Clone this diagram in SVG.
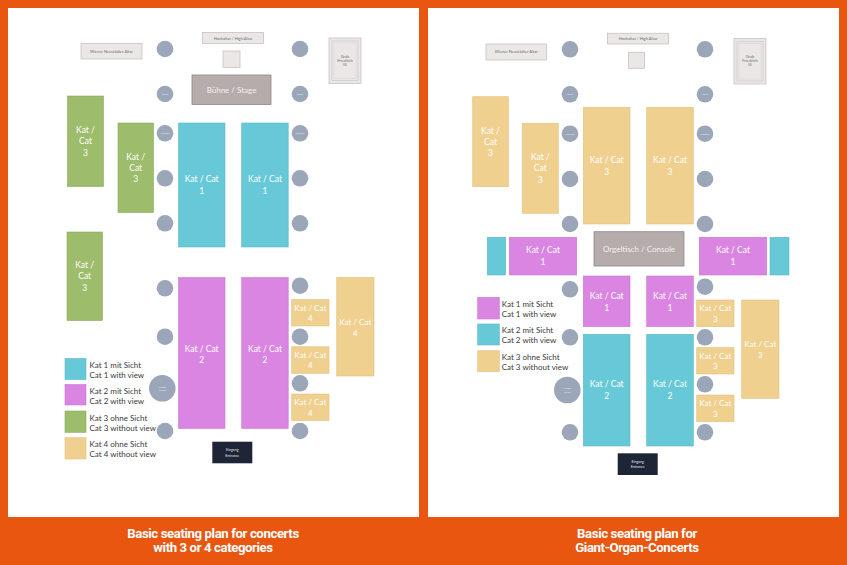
<svg xmlns="http://www.w3.org/2000/svg" width="847" height="565" viewBox="0 0 847 565">
<style>
text{font-family:Lato,"Open Sans","Liberation Sans",sans-serif}
.panel{fill:#ffffff}
.alt{fill:#ebe7e7;stroke:#c9c3c3;stroke-width:0.8}
.altT{fill:#6b6b6b;font-size:4px;text-anchor:middle}
.col{fill:#9ba6b9}
.colT{fill:#e8ecf2;font-size:2.6px;text-anchor:middle}
.stage{fill:#b5acab;stroke:#8f8787;stroke-width:0.8}
.stageT{fill:#f4f0f0;font-size:8px;text-anchor:middle}
.c1{fill:#67c9d7;stroke:#5ab8c6;stroke-width:0.6}
.c2{fill:#d985e1;stroke:#c877d0;stroke-width:0.6}
.c3{fill:#9dbc6c;stroke:#8aa95b;stroke-width:0.6}
.c4{fill:#f0d08f;stroke:#e2c07e;stroke-width:0.6}
.kt{fill:#ffffff;font-size:8.5px;text-anchor:middle}
.kts{fill:#ffffff;font-size:8px;text-anchor:middle}
.leg{fill:#3a3a3a;font-size:8px}
.ent{fill:#1e2536}
.entT{fill:#e6e8ee;font-size:3.6px;text-anchor:middle}
.cap{fill:#ffffff;font-family:"Roboto","Liberation Sans",sans-serif;font-weight:bold;font-size:13.2px;text-anchor:middle;letter-spacing:-0.4px}
</style>
<rect width="847" height="565" fill="#e8560f"/>
<rect class="panel" x="8" y="8" width="411" height="509"/>
<rect class="panel" x="428" y="8" width="411" height="509"/>
<g id="connectors"/>

<!-- LEFT PANEL -->
<g id="L-wiener"><rect class="alt" x="81" y="43.5" width="61" height="15.5"/><text class="altT" x="111.5" y="52.5">Wiener  Neustädter  Altar</text></g>
<g id="L-hochaltar"><rect class="alt" x="202.5" y="32.5" width="61" height="11"/><text class="altT" x="233" y="39.5">Hochaltar  /  High  Altar</text></g>
<g id="L-square"><rect class="alt" x="223" y="51" width="17" height="16.5"/></g>
<g id="L-grab"><rect class="alt" x="329" y="38" width="32" height="45.5"/><rect x="332" y="41" width="26" height="39.5" fill="none" stroke="#c9c3c3" stroke-width="0.6"/><rect x="334" y="43" width="22" height="35.5" fill="none" stroke="#d6d1d1" stroke-width="0.5"/><text class="altT" x="345" y="57.5" font-size="3.3">Grab</text><text class="altT" x="345" y="61.5" font-size="3.3">Friedrich</text><text class="altT" x="345" y="65.5" font-size="3.3">III</text></g>
<g id="L-stage"><rect class="stage" x="192" y="75" width="79" height="29.5"/><text class="stageT" x="231.5" y="92.5">Bühne / Stage</text></g>

<g id="L-col1"><circle class="col" cx="165" cy="49" r="8.3"/></g>
<g id="L-col2"><circle class="col" cx="300" cy="49" r="8.3"/></g>
<g id="L-col3"><circle class="col" cx="165" cy="94" r="8.3"/><text class="colT" x="165" y="95">Säule</text></g>
<g id="L-col4"><circle class="col" cx="300" cy="94" r="8.3"/><text class="colT" x="300" y="95">Säule</text></g>
<g id="L-col5"><circle class="col" cx="165" cy="133.3" r="8.3"/><text class="colT" x="165" y="134.3">Column</text></g>
<g id="L-col6"><circle class="col" cx="300" cy="133.3" r="8.3"/><text class="colT" x="300" y="134.3">Column</text></g>
<g id="L-col7"><circle class="col" cx="165" cy="178.3" r="8.3"/></g>
<g id="L-col8"><circle class="col" cx="300" cy="178.3" r="8.3"/></g>
<g id="L-col9"><circle class="col" cx="165" cy="223.3" r="8.3"/></g>
<g id="L-col10"><circle class="col" cx="300" cy="223.3" r="8.3"/></g>
<g id="L-col11"><circle class="col" cx="165" cy="288.3" r="8.3"/></g>
<g id="L-col12"><circle class="col" cx="300" cy="285.7" r="8.3"/></g>
<g id="L-col13"><circle class="col" cx="165" cy="336.7" r="8.3"/></g>
<g id="L-col14"><circle class="col" cx="300" cy="336.7" r="8.3"/></g>
<g id="L-pulpit"><circle class="col" cx="162.3" cy="388.3" r="13.3"/><text class="colT" x="162.3" y="387.5">Kanzel</text><text class="colT" x="162.3" y="391">Pulpit</text></g>
<g id="L-col15"><circle class="col" cx="300" cy="383.3" r="8.3"/></g>
<g id="L-col16"><circle class="col" cx="165" cy="431" r="8.3"/></g>
<g id="L-col17"><circle class="col" cx="300" cy="431" r="8.3"/></g>

<g id="L-g1"><rect class="c3" x="67.5" y="96" width="36" height="90.5"/><text class="kt" x="85.5" y="133">Kat /</text><text class="kt" x="85.5" y="144">Cat</text><text class="kt" x="85.5" y="155.5">3</text></g>
<g id="L-g2"><rect class="c3" x="118" y="123" width="35.5" height="89.5"/><text class="kt" x="135.7" y="159.5">Kat /</text><text class="kt" x="135.7" y="170.5">Cat</text><text class="kt" x="135.7" y="182">3</text></g>
<g id="L-g3"><rect class="c3" x="67" y="232" width="35.5" height="88.5"/><text class="kt" x="84.7" y="268">Kat /</text><text class="kt" x="84.7" y="279">Cat</text><text class="kt" x="84.7" y="290.5">3</text></g>
<g id="L-b1"><rect class="c1" x="178.5" y="123" width="46.5" height="124"/><text class="kt" x="201.7" y="182">Kat / Cat</text><text class="kt" x="201.7" y="194">1</text></g>
<g id="L-b2"><rect class="c1" x="241.7" y="123" width="46.5" height="124"/><text class="kt" x="265" y="182">Kat / Cat</text><text class="kt" x="265" y="194">1</text></g>
<g id="L-m1"><rect class="c2" x="178.5" y="277.5" width="46.5" height="151"/><text class="kt" x="201.7" y="351.5">Kat / Cat</text><text class="kt" x="201.7" y="363">2</text></g>
<g id="L-m2"><rect class="c2" x="241.7" y="277.5" width="46.5" height="151"/><text class="kt" x="265" y="351.5">Kat / Cat</text><text class="kt" x="265" y="363">2</text></g>
<g id="L-o1"><rect class="c4" x="291.7" y="299.5" width="37.3" height="26.5"/><text class="kts" x="310.3" y="310.5">Kat / Cat</text><text class="kts" x="310.3" y="321">4</text></g>
<g id="L-o2"><rect class="c4" x="291.7" y="346.8" width="37.3" height="26.5"/><text class="kts" x="310.3" y="357.8">Kat / Cat</text><text class="kts" x="310.3" y="368.3">4</text></g>
<g id="L-o3"><rect class="c4" x="291.7" y="394" width="37.3" height="26.5"/><text class="kts" x="310.3" y="405">Kat / Cat</text><text class="kts" x="310.3" y="415.5">4</text></g>
<g id="L-o4"><rect class="c4" x="336.7" y="277.5" width="37.3" height="98.5"/><text class="kts" x="355.3" y="324.5">Kat / Cat</text><text class="kts" x="355.3" y="335.5">4</text></g>
<g id="L-entrance"><rect class="ent" x="212.3" y="441.7" width="40" height="21.6"/><text class="entT" x="232.3" y="451">Eingang</text><text class="entT" x="232.3" y="456.5">Entrance</text></g>

<g id="L-legend">
<rect class="c1" x="65" y="358.5" width="21" height="21"/><text class="leg" x="89.5" y="367.5">Kat 1 mit Sicht</text><text class="leg" x="89.5" y="377.5">Cat 1 with view</text>
<rect class="c2" x="65" y="384.5" width="21" height="20.5"/><text class="leg" x="89.5" y="393.5">Kat 2 mit Sicht</text><text class="leg" x="89.5" y="403.5">Cat 2 with view</text>
<rect class="c3" x="65" y="411" width="21" height="21.3"/><text class="leg" x="89.5" y="420.5">Kat 3 ohne Sicht</text><text class="leg" x="89.5" y="430.5">Cat 3 without view</text>
<rect class="c4" x="65" y="437.7" width="21" height="21.3"/><text class="leg" x="89.5" y="447">Kat 4 ohne Sicht</text><text class="leg" x="89.5" y="457">Cat 4 without view</text>
</g>

<!-- RIGHT PANEL -->
<g id="R-wiener"><rect class="alt" x="486" y="44" width="60.7" height="16"/><text class="altT" x="516.3" y="53.3">Wiener  Neustädter  Altar</text></g>
<g id="R-hochaltar"><rect class="alt" x="607.5" y="33.3" width="61" height="10.7"/><text class="altT" x="638" y="40.2">Hochaltar  /  High  Altar</text></g>
<g id="R-square"><rect class="alt" x="628.5" y="52.3" width="16" height="16"/></g>
<g id="R-grab"><rect class="alt" x="734" y="38.5" width="32" height="45.5"/><rect x="737" y="41.5" width="26" height="39.5" fill="none" stroke="#c9c3c3" stroke-width="0.6"/><rect x="739" y="43.5" width="22" height="35.5" fill="none" stroke="#d6d1d1" stroke-width="0.5"/><text class="altT" x="750" y="58" font-size="3.3">Grab</text><text class="altT" x="750" y="62" font-size="3.3">Friedrich</text><text class="altT" x="750" y="66" font-size="3.3">III</text></g>
<g id="R-console"><rect class="stage" x="594" y="231.7" width="90" height="34.3"/><text class="stageT" x="639" y="251.5">Orgeltisch / Console</text></g>

<g id="R-col1"><circle class="col" cx="570" cy="49.3" r="8.3"/></g>
<g id="R-col2"><circle class="col" cx="705" cy="49.3" r="8.3"/></g>
<g id="R-col3"><circle class="col" cx="570" cy="94.3" r="8.3"/><text class="colT" x="570" y="95.3">Säule</text></g>
<g id="R-col4"><circle class="col" cx="705" cy="94.3" r="8.3"/><text class="colT" x="705" y="95.3">Säule</text></g>
<g id="R-col5"><circle class="col" cx="570" cy="133.7" r="8.3"/><text class="colT" x="570" y="134.7">Column</text></g>
<g id="R-col6"><circle class="col" cx="705" cy="133.7" r="8.3"/><text class="colT" x="705" y="134.7">Column</text></g>
<g id="R-col7"><circle class="col" cx="570" cy="179" r="8.3"/></g>
<g id="R-col8"><circle class="col" cx="705" cy="179" r="8.3"/></g>
<g id="R-col9"><circle class="col" cx="570" cy="224" r="8.3"/></g>
<g id="R-col10"><circle class="col" cx="705" cy="224" r="8.3"/></g>
<g id="R-col11"><circle class="col" cx="570" cy="289.3" r="8.3"/></g>
<g id="R-col12"><circle class="col" cx="705" cy="286.7" r="8.3"/></g>
<g id="R-col13"><circle class="col" cx="570" cy="337.3" r="8.3"/></g>
<g id="R-col14"><circle class="col" cx="705" cy="337.3" r="8.3"/></g>
<g id="R-pulpit"><circle class="col" cx="567.3" cy="390" r="13.3"/><text class="colT" x="567.3" y="389.2">Kanzel</text><text class="colT" x="567.3" y="392.7">Pulpit</text></g>
<g id="R-col15"><circle class="col" cx="705" cy="384.3" r="8.3"/></g>
<g id="R-col16"><circle class="col" cx="570" cy="432.3" r="8.3"/></g>
<g id="R-col17"><circle class="col" cx="705" cy="432.3" r="8.3"/></g>

<g id="R-y1"><rect class="c4" x="472.7" y="96.7" width="35.6" height="90"/><text class="kt" x="490.5" y="133.5">Kat /</text><text class="kt" x="490.5" y="144.5">Cat</text><text class="kt" x="490.5" y="156">3</text></g>
<g id="R-y2"><rect class="c4" x="522.3" y="123.3" width="36" height="90"/><text class="kt" x="540.3" y="160">Kat /</text><text class="kt" x="540.3" y="171">Cat</text><text class="kt" x="540.3" y="182.5">3</text></g>
<g id="R-y3"><rect class="c4" x="583.3" y="107.3" width="46.7" height="116.7"/><text class="kt" x="606.7" y="163">Kat / Cat</text><text class="kt" x="606.7" y="175">3</text></g>
<g id="R-y4"><rect class="c4" x="646.7" y="107.3" width="46.6" height="116.7"/><text class="kt" x="670" y="163">Kat / Cat</text><text class="kt" x="670" y="175">3</text></g>
<g id="R-t1"><rect class="c1" x="487.3" y="237.3" width="18.4" height="37.7"/></g>
<g id="R-p1"><rect class="c2" x="509.3" y="237.3" width="67.4" height="37.7"/><text class="kt" x="543" y="253">Kat / Cat</text><text class="kt" x="543" y="265">1</text></g>
<g id="R-p2"><rect class="c2" x="699.3" y="237.3" width="67.4" height="37.7"/><text class="kt" x="733" y="253">Kat / Cat</text><text class="kt" x="733" y="265">1</text></g>
<g id="R-t2"><rect class="c1" x="770" y="237.3" width="19" height="37.7"/></g>
<g id="R-p3"><rect class="c2" x="583.3" y="276" width="46.7" height="50.7"/><text class="kt" x="606.7" y="298.7">Kat / Cat</text><text class="kt" x="606.7" y="310.5">1</text></g>
<g id="R-p4"><rect class="c2" x="646.7" y="276" width="46.6" height="50.7"/><text class="kt" x="670" y="298.7">Kat / Cat</text><text class="kt" x="670" y="310.5">1</text></g>
<g id="R-t3"><rect class="c1" x="583.3" y="334.3" width="46.7" height="111.7"/><text class="kt" x="606.7" y="387.3">Kat / Cat</text><text class="kt" x="606.7" y="399">2</text></g>
<g id="R-t4"><rect class="c1" x="646.7" y="334.3" width="46.6" height="111.7"/><text class="kt" x="670" y="387.3">Kat / Cat</text><text class="kt" x="670" y="399">2</text></g>
<g id="R-y5"><rect class="c4" x="696.7" y="300" width="37.3" height="26.7"/><text class="kts" x="715.3" y="311">Kat / Cat</text><text class="kts" x="715.3" y="321.5">3</text></g>
<g id="R-y6"><rect class="c4" x="696.7" y="347.7" width="37.3" height="26.3"/><text class="kts" x="715.3" y="358.7">Kat / Cat</text><text class="kts" x="715.3" y="369.2">3</text></g>
<g id="R-y7"><rect class="c4" x="696.7" y="395" width="37.3" height="26.7"/><text class="kts" x="715.3" y="406">Kat / Cat</text><text class="kts" x="715.3" y="416.5">3</text></g>
<g id="R-y8"><rect class="c4" x="741.7" y="300" width="37.3" height="98.3"/><text class="kts" x="760.3" y="346.5">Kat / Cat</text><text class="kts" x="760.3" y="357.5">3</text></g>
<g id="R-entrance"><rect class="ent" x="617.7" y="453.3" width="40" height="21.7"/><text class="entT" x="637.7" y="462.5">Eingang</text><text class="entT" x="637.7" y="468">Entrance</text></g>

<g id="R-legend">
<rect class="c2" x="477.7" y="297.3" width="21.6" height="21.7"/><text class="leg" x="501.7" y="306.5">Kat 1 mit Sicht</text><text class="leg" x="501.7" y="316.5">Cat 1 with view</text>
<rect class="c1" x="477.7" y="324" width="21.6" height="21"/><text class="leg" x="501.7" y="332.8">Kat 2 mit Sicht</text><text class="leg" x="501.7" y="342.8">Cat 2 with view</text>
<rect class="c4" x="477.7" y="350.7" width="21.6" height="21"/><text class="leg" x="501.7" y="359.5">Kat 3 ohne Sicht</text><text class="leg" x="501.7" y="369.5">Cat 3 without view</text>
</g>

<g id="captions">
<text class="cap" x="213" y="537.5">Basic seating plan for concerts</text>
<text class="cap" x="213" y="552">with 3 or 4 categories</text>
<text class="cap" x="637" y="537.5">Basic seating plan for</text>
<text class="cap" x="637" y="552">Giant-Organ-Concerts</text>
</g>
</svg>
